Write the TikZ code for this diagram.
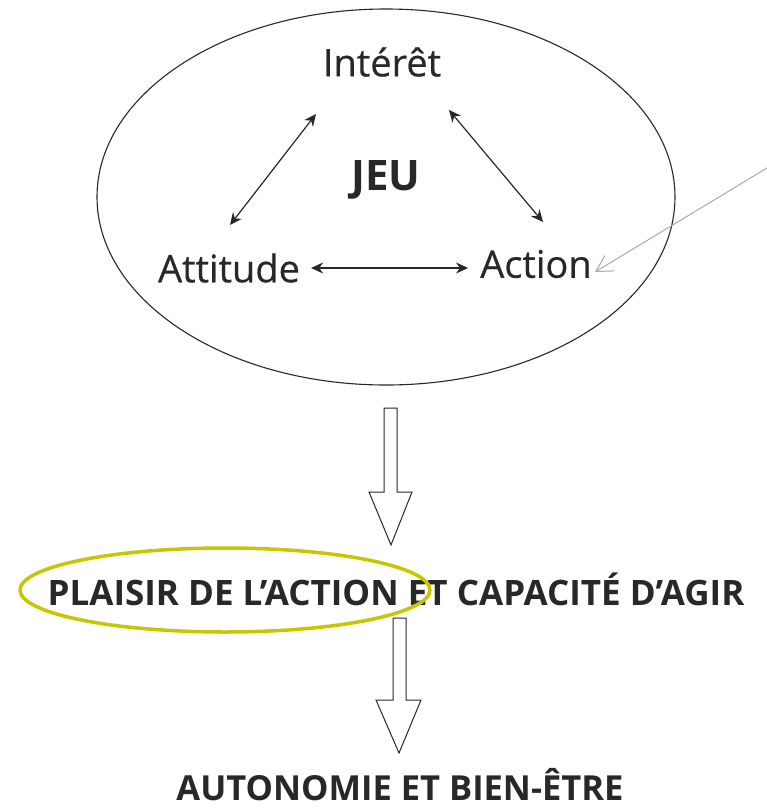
\documentclass[tikz,border=0pt]{standalone}
\usepackage{fontspec}
\setmainfont{Open Sans}
\newfontfamily\lblfont[FakeBold=0.5]{Open Sans}
\usetikzlibrary{arrows.meta,shapes.geometric}
\definecolor{ink}{RGB}{40,40,40}
\definecolor{hlyellow}{RGB}{200,198,0}
\definecolor{pencil}{RGB}{170,170,170}
\begin{document}
\begin{tikzpicture}[x=1pt,y=-1pt,
  lbl/.style={font=\lblfont\fontsize{38}{42}\selectfont, text=ink, inner sep=0pt},
  headlbl/.style={font=\bfseries\fontsize{42}{46}\selectfont, text=ink, inner sep=0pt},
  caps/.style={font=\bfseries\fontsize{35}{40}\selectfont, text=ink, inner sep=0pt},
  dbl/.style={{Stealth[length=12pt,width=11pt]}-{Stealth[length=12pt,width=11pt]}, draw=ink, line width=1.2pt},
  hollow/.style={draw=ink, line width=1pt, fill=white, line join=miter},
  outline/.style={draw=ink, line width=1.1pt, ellipse, inner sep=0pt},
  hlring/.style={draw=hlyellow, line width=3.5pt, ellipse, inner sep=0pt}
]
\useasboundingbox (0,0) rectangle (767,809);
\fill[white] (0,0) rectangle (767,809);

% big ellipse
\node[outline, minimum width=578pt, minimum height=376pt] (jeu) at (386,197) {};

% labels
\node[lbl] (int) at (382,62) {Intérêt};
\node[lbl] (att) at (229,268) {Attitude};
\node[lbl] (act) at (536,264) {Action};
\node[headlbl] (jeut) at (386,180) {JEU};

% arrow end points
\coordinate (i1) at (316,114);
\coordinate (a1) at (230,225);
\coordinate (i2) at (449,110);
\coordinate (c2) at (543,222);
\draw[dbl] (i1) -- (a1);
\draw[dbl] (i2) -- (c2);
\draw[dbl, shorten <=11pt, shorten >=12pt] (att.east) -- (act.west |- att.east);

% pencil arrow
\coordinate (p0) at (767,168);
\coordinate (p1) at (595,272);
\draw[pencil, line width=1pt, -{Straight Barb[length=16pt,width=18pt]}] (p0) -- (p1);

% hollow arrows
\draw[hollow] (384,408) -- (397,408) -- (397,492) -- (412,492) -- (391,545) -- (369,492) -- (384,492) -- cycle;
\draw[hollow] (393,618) -- (406,618) -- (406,700) -- (421,700) -- (399,753) -- (376,700) -- (393,700) -- cycle;

% texts
\node[caps] (plaisir) at (396,589) {PLAISIR DE L’ACTION ET CAPACITÉ D’AGIR};
\node[caps, font=\bfseries\fontsize{34.5}{40}\selectfont] (auto) at (400,785) {AUTONOMIE ET BIEN-ÊTRE};

% highlight
\node[hlring, minimum width=410pt, minimum height=84pt] (hl) at (225,590) {};
\end{tikzpicture}
\end{document}
